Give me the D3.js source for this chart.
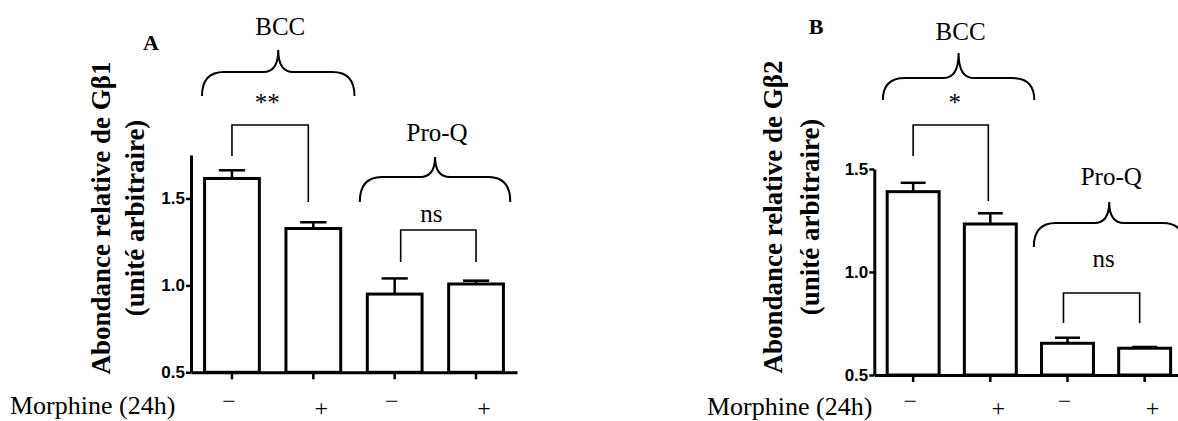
<!DOCTYPE html>
<html>
<head>
<meta charset="utf-8">
<script src="https://cdn.jsdelivr.net/npm/d3@7"></script>
<style>
  body { margin: 0; background: #fff; }
  svg { display: block; background: #fff; }
  .serif { font-family: "Liberation Serif", "Times New Roman", serif; fill: #000; }
  .yaxis .tick text { font-family: "Liberation Sans", Arial, sans-serif; font-weight: bold; font-size: 17px; fill: #000; }
</style>
</head>
<body>
<svg id="chart" width="1178" height="421"></svg>
<script>
// conditions: group x morphine (24h)
var conditions = ["BCC-", "BCC+", "ProQ-", "ProQ+"];
var morphineSigns = ["\u2212", "+", "\u2212", "+"];
var groups = ["BCC", "Pro-Q"];
var yTicks = [0.5, 1.0, 1.5];

// panel A : G beta 1
var gb1Mean = [1.615, 1.327, 0.950, 1.008];
var gb1Sem = [0.047, 0.036, 0.090, 0.019];
var gb1Signif = ["**", "ns"];

// panel B : G beta 2
var gb2Mean = [1.390, 1.233, 0.654, 0.630];
var gb2Sem = [0.043, 0.052, 0.027, 0.006];
var gb2Signif = ["*", "ns"];

var svg = d3.select("#chart");

var panels = [
  {
    letter: "A", letterX: 151, letterY: 50,
    label: ["Abondance relative de G\u03b21", "(unit\u00e9 arbitraire)"],
    labelX: [101, 134.5], labelY: 218,
    mean: gb1Mean, sem: gb1Sem, signif: gb1Signif,
    yMax: 1.75, left: 191, right: 517, top: 155, bottom: 372.3,
    morphX: 10, morphY: 414,
    braces: [
      { dl: -2.6, dr: 13.8, top: 50, mid: 72, bot: 96, textY: 35 },
      { dl: -7.5, dr: 6.9, top: 157, mid: 177, bot: 202, textY: 141 }
    ],
    brackets: [
      { dxl: 0, dxr: -5, top: 125, botL: 156, botR: 202, textY: 111, textDx: -3 },
      { dxl: 6, dxr: 0, top: 230, botL: 262, botR: 262, textY: 222, textDx: -7 }
    ]
  },
  {
    letter: "B", letterX: 816, letterY: 34,
    label: ["Abondance relative de G\u03b22", "(unit\u00e9 arbitraire)"],
    labelX: [773, 810], labelY: 217,
    mean: gb2Mean, sem: gb2Sem, signif: gb2Signif,
    yMax: 1.5, left: 874.3, right: 1183.5, top: 169, bottom: 375,
    morphX: 707, morphY: 415,
    braces: [
      { dl: -4.3, dr: 18, top: 53, mid: 78, bot: 100, textY: 40 },
      { dl: -7.7, dr: 14, top: 202, mid: 223, bot: 247, textY: 185 }
    ],
    brackets: [
      { dxl: 0, dxr: -2, top: 125, botL: 156, botR: 201, textY: 111, textDx: 4 },
      { dxl: -4, dxr: -5, top: 293, botL: 323, botR: 323, textY: 267, textDx: 2 }
    ]
  }
];

function bracePath(x0, x1, yT, yM, yB) {
  var xc = (x0 + x1) / 2, r = 22, rc = 15;
  return "M" + x0 + "," + yB +
    " Q" + x0 + "," + yM + " " + (x0 + r) + "," + yM +
    " L" + (xc - rc) + "," + yM +
    " Q" + xc + "," + yM + " " + xc + "," + yT +
    " Q" + xc + "," + yM + " " + (xc + rc) + "," + yM +
    " L" + (x1 - r) + "," + yM +
    " Q" + x1 + "," + yM + " " + x1 + "," + yB;
}

panels.forEach(function(p) {
  var x = d3.scaleBand()
    .domain(conditions)
    .range([p.left, p.right])
    .paddingInner(0.327)
    .paddingOuter(0.167);

  var y = d3.scaleLinear()
    .domain([0.5, p.yMax])
    .range([p.bottom, p.top]);

  var bw = x.bandwidth();
  var cx = function(c) { return x(c) + bw / 2; };

  var g = svg.append("g");

  // panel letter
  g.append("text")
    .attr("class", "serif")
    .attr("x", p.letterX)
    .attr("y", p.letterY)
    .attr("text-anchor", "middle")
    .attr("font-weight", "bold")
    .attr("font-size", 22)
    .text(p.letter);

  // y axis title (two lines)
  p.label.forEach(function(line, i) {
    g.append("text")
      .attr("class", "serif")
      .attr("transform", "translate(" + p.labelX[i] + "," + p.labelY + ") rotate(-90)")
      .attr("text-anchor", "middle")
      .attr("dominant-baseline", "central")
      .attr("font-weight", "bold")
      .attr("font-size", 27)
      .text(line);
  });

  // bars
  g.selectAll("rect.bar")
    .data(conditions)
    .enter().append("rect")
      .attr("class", "bar")
      .attr("x", function(d) { return x(d); })
      .attr("y", function(d, i) { return y(p.mean[i]); })
      .attr("width", bw)
      .attr("height", function(d, i) { return y(0.5) - y(p.mean[i]); })
      .attr("fill", "#fff")
      .attr("stroke", "#000")
      .attr("stroke-width", 3);

  // error bars (upper only)
  var err = g.selectAll("g.err")
    .data(conditions)
    .enter().append("g")
      .attr("class", "err");
  err.append("line")
    .attr("x1", cx).attr("x2", cx)
    .attr("y1", function(d, i) { return y(p.mean[i]); })
    .attr("y2", function(d, i) { return y(p.mean[i] + p.sem[i]); })
    .attr("stroke", "#000").attr("stroke-width", 2.5);
  err.append("line")
    .attr("x1", function(d) { return cx(d) - bw * 0.24; })
    .attr("x2", function(d) { return cx(d) + bw * 0.24; })
    .attr("y1", function(d, i) { return y(p.mean[i] + p.sem[i]); })
    .attr("y2", function(d, i) { return y(p.mean[i] + p.sem[i]); })
    .attr("stroke", "#000").attr("stroke-width", 2.5);

  // axes
  var yAxis = g.append("g")
    .attr("class", "yaxis")
    .attr("transform", "translate(" + p.left + ",0)")
    .call(d3.axisLeft(y).tickValues(yTicks).tickFormat(d3.format(".1f"))
      .tickSize(5).tickSizeOuter(0).tickPadding(1));
  yAxis.select(".domain").attr("stroke", "#000").attr("stroke-width", 3);
  yAxis.selectAll(".tick line").attr("stroke", "#000").attr("stroke-width", 2.5);

  var xAxis = g.append("g")
    .attr("transform", "translate(0," + p.bottom + ")")
    .call(d3.axisBottom(x).tickFormat("").tickSize(7).tickSizeOuter(0));
  xAxis.select(".domain").attr("stroke", "#000").attr("stroke-width", 3);
  xAxis.selectAll(".tick line").attr("stroke", "#000").attr("stroke-width", 2.5);

  // morphine row
  g.append("text")
    .attr("class", "serif")
    .attr("x", p.morphX)
    .attr("y", p.morphY)
    .attr("font-size", 26)
    .text("Morphine (24h)");

  g.selectAll("text.sign")
    .data(conditions)
    .enter().append("text")
      .attr("class", "serif sign")
      .attr("x", function(d, i) { return cx(d) + (morphineSigns[i] === "+" ? 8 : -3); })
      .attr("y", function(d, i) { return morphineSigns[i] === "+" ? 416 : 409; })
      .attr("text-anchor", "middle")
      .attr("font-size", 24)
      .text(function(d, i) { return morphineSigns[i]; });

  // group braces with labels
  groups.forEach(function(name, gi) {
    var b = p.braces[gi];
    var x0 = x(conditions[gi * 2]) + b.dl;
    var x1 = x(conditions[gi * 2 + 1]) + bw + b.dr;
    g.append("path")
      .attr("d", bracePath(x0, x1, b.top, b.mid, b.bot))
      .attr("fill", "none")
      .attr("stroke", "#000")
      .attr("stroke-width", 2);
    g.append("text")
      .attr("class", "serif")
      .attr("x", (x0 + x1) / 2 + 2)
      .attr("y", b.textY)
      .attr("text-anchor", "middle")
      .attr("font-size", 25)
      .text(name);

    // significance bracket
    var k = p.brackets[gi];
    var lx = cx(conditions[gi * 2]) + k.dxl;
    var rx = cx(conditions[gi * 2 + 1]) + k.dxr;
    g.append("path")
      .attr("d", "M" + lx + "," + k.botL + " V" + k.top + " H" + rx + " V" + k.botR)
      .attr("fill", "none")
      .attr("stroke", "#000")
      .attr("stroke-width", 1.6);
    g.append("text")
      .attr("class", "serif")
      .attr("x", (lx + rx) / 2 + k.textDx)
      .attr("y", k.textY)
      .attr("text-anchor", "middle")
      .attr("font-size", 25)
      .text(p.signif[gi]);
  });
});
</script>
</body>
</html>
